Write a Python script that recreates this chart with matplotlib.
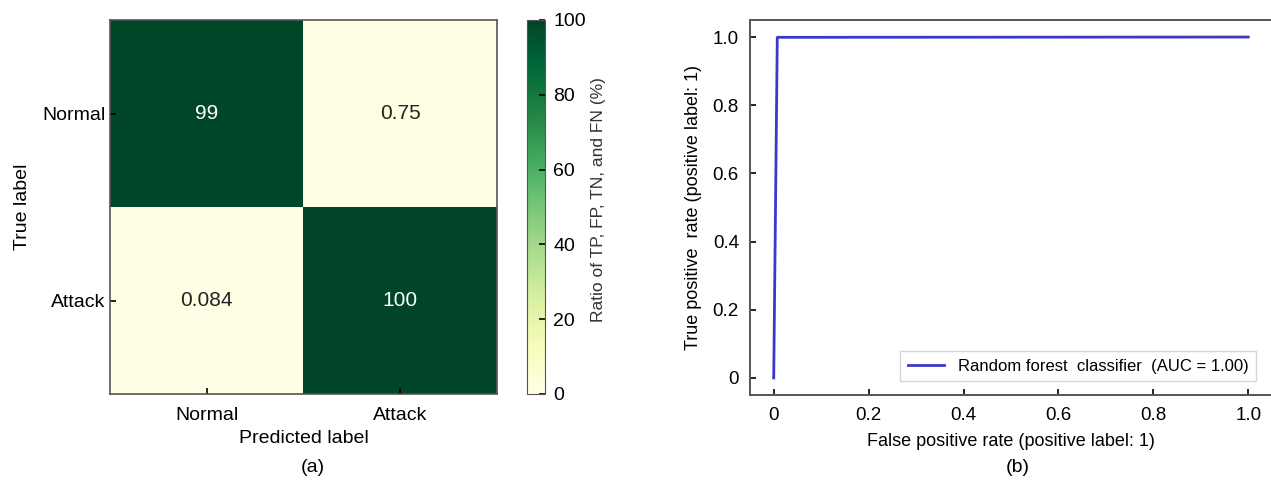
import numpy as np
import matplotlib
matplotlib.use("Agg")
import matplotlib.pyplot as plt

CLASSES = ["Normal", "Attack"]
CM_PERCENT = [[99, 0.75],
              [0.084, 100]]

ROC_FPR = [0.0, 0.0075, 1.0]
ROC_TPR = [0.0, 0.99916, 1.0]
ROC_LABEL = "Random forest  classifier  (AUC = 1.00)"
ROC_TICKS = [0, 0.2, 0.4, 0.6, 0.8, 1.0]
ROC_TICKLABELS = ["0", "0.2", "0.4", "0.6", "0.8", "1.0"]

plt.rcParams["font.family"] = ["Liberation Sans", "DejaVu Sans"]
plt.rcParams["xtick.direction"] = "in"
plt.rcParams["ytick.direction"] = "in"


def main():
    fig = plt.figure(figsize=(12.71, 4.84), dpi=100)
    W, H = 1271, 484

    # (a) confusion matrix
    ax = fig.add_axes([110 / W, 1 - 394 / H, 387 / W, 374 / H])
    cm = np.array(CM_PERCENT)
    im = ax.imshow(cm, cmap="YlGn", vmin=0, vmax=100, aspect="auto",
                   interpolation="nearest")
    for i in range(2):
        for j in range(2):
            v = cm[i, j]
            ax.text(j, i, f"{v:g}", ha="center", va="center", fontsize=15,
                    color="white" if v > 50 else "#222222")
    ax.set_xticks(range(2))
    ax.set_xticklabels(CLASSES, fontsize=14)
    ax.set_yticks(range(2))
    ax.set_yticklabels(CLASSES, fontsize=14)
    ax.tick_params(length=4, width=1.2)
    ax.tick_params(axis="x", pad=9)
    ax.set_xlabel("Predicted label", fontsize=14, labelpad=5)
    ax.set_ylabel("True label", fontsize=14, labelpad=8)
    for s in ax.spines.values():
        s.set_color("#555555")
        s.set_linewidth(1.2)

    cax = fig.add_axes([527 / W, 1 - 394 / H, 18 / W, 374 / H])
    cb = fig.colorbar(im, cax=cax)
    cb.set_ticks([0, 20, 40, 60, 80, 100])
    cb.ax.tick_params(labelsize=14, direction="in", length=4, width=1.2,
                      pad=6)
    cb.outline.set_edgecolor("#555555")
    cax.text(4.0, 0.52, "Ratio of TP, FP, TN, and FN (%)", rotation=90,
             transform=cax.transAxes, ha="center", va="center", fontsize=12.5,
             color="#333333")

    fig.text(313 / W, 1 - 468 / H, "(a)", ha="center", va="center",
             fontsize=14)

    # (b) ROC curve
    ax2 = fig.add_axes([750 / W, 1 - 395 / H, 522 / W, 375 / H])
    ax2.plot(ROC_FPR, ROC_TPR, color="#3c38c8", linewidth=2, label=ROC_LABEL)
    ax2.set_xlim(-0.05, 1.05)
    ax2.set_ylim(-0.05, 1.05)
    ax2.set_xticks(ROC_TICKS)
    ax2.set_xticklabels(ROC_TICKLABELS, fontsize=13.5)
    ax2.set_yticks(ROC_TICKS)
    ax2.set_yticklabels(ROC_TICKLABELS, fontsize=13.5)
    ax2.tick_params(length=4, width=1.2)
    ax2.tick_params(axis="x", pad=9)
    ax2.tick_params(axis="y", pad=8)
    ax2.set_xlabel("False positive rate (positive label: 1)", fontsize=13,
                   labelpad=6)
    ax2.set_ylabel("True positive  rate (positive label: 1)", fontsize=13,
                   labelpad=8)
    for s in ax2.spines.values():
        s.set_color("#555555")
        s.set_linewidth(1.4)
    ax2.legend(loc="lower right", fontsize=12, frameon=True, fancybox=False,
               edgecolor="#cccccc", handlelength=2.2, borderpad=0.45,
               bbox_to_anchor=(0.985, 0.015))

    fig.text(1018 / W, 1 - 468 / H, "(b)", ha="center", va="center",
             fontsize=14)

    fig.savefig("out.png", dpi=100)


if __name__ == "__main__":
    main()
